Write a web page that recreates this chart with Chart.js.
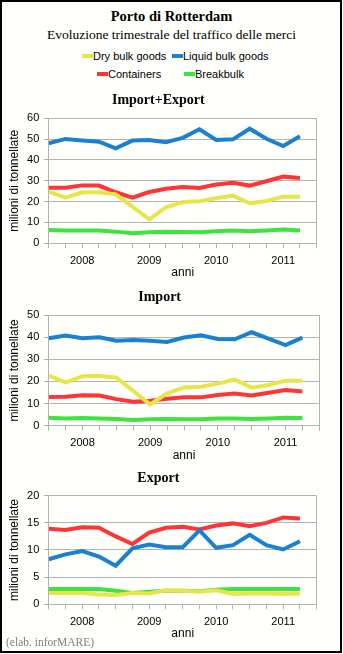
<!DOCTYPE html>
<html>
<head>
<meta charset="utf-8">
<script src="https://cdn.jsdelivr.net/npm/chart.js@4/dist/chart.umd.min.js"></script>
<style>
body { margin: 0; background: #fff; }
#frame { position: absolute; left: 0; top: 0; width: 342px; height: 653px; border: 2px solid #000; box-sizing: border-box; background: #fffffc; }
.hd { position: absolute; left: 0; width: 343px; text-align: center; white-space: nowrap; color: #000; font-family: 'Liberation Serif', 'Times New Roman', serif; }
#t1 { top: 7px; line-height: 18px; font-size: 14.5px; font-weight: bold; }
#t2 { top: 26px; line-height: 18px; font-size: 13.5px; }
.lg { position: absolute; line-height: 14px; font: 11px 'Liberation Sans', Arial, sans-serif; white-space: nowrap; color: #000; }
.lg i { display: inline-block; width: 11px; height: 4px; vertical-align: middle; margin-top: -2px; }
canvas { position: absolute; left: 0; }
#src { position: absolute; left: 6px; top: 636px; line-height: 14px; font: 11.5px 'Liberation Serif', 'Times New Roman', serif; color: #808080; }
</style>
</head>
<body>
<div id="frame"></div>
<div class="hd" id="t1">Porto di Rotterdam</div>
<div class="hd" id="t2">Evoluzione trimestrale del traffico delle merci</div>
<div id="legend"></div>
<canvas id="c1" width="343" height="195" style="top:88px"></canvas>
<canvas id="c2" width="343" height="184" style="top:283px"></canvas>
<canvas id="c3" width="343" height="186" style="top:467px"></canvas>
<div id="src">(elab. inforMARE)</div>
<script>
// anni sull'asse x, un punto per trimestre (2008 - 2011)
var yearLabels = ['2008', '2009', '2010', '2011'];
var seriesNames = ['Dry bulk goods', 'Liquid bulk goods', 'Containers', 'Breakbulk'];

// Import+Export, milioni di tonnellate
var totDry    = [24.8, 21.9, 24.5, 24.5, 23.5, 17.6, 11.5, 17.3, 19.8, 20.2, 21.6, 22.9, 19.2, 20.3, 22.4, 22.4];
var totLiquid = [48.0, 50.1, 49.4, 48.8, 45.6, 49.3, 49.6, 48.5, 50.6, 54.7, 49.6, 49.9, 55.0, 50.2, 46.7, 51.4];
var totCont   = [26.7, 26.7, 27.8, 27.7, 24.5, 21.9, 24.6, 26.2, 27.0, 26.6, 28.2, 29.1, 27.7, 29.8, 32.0, 31.4];
var totBreak  = [6.4, 6.2, 6.2, 6.2, 5.6, 4.8, 5.3, 5.6, 5.4, 5.3, 5.8, 6.1, 5.8, 6.2, 6.6, 6.2];

// Import
var impDry    = [22.6, 19.6, 22.3, 22.6, 21.7, 15.7, 9.6, 14.6, 17.3, 17.6, 19.0, 20.8, 17.2, 18.4, 20.3, 20.3];
var impLiquid = [39.5, 40.7, 39.5, 39.9, 38.4, 38.7, 38.4, 37.8, 39.8, 40.8, 39.2, 39.0, 42.2, 39.3, 36.4, 39.8];
var impCont   = [13.0, 13.1, 13.7, 13.6, 12.0, 10.8, 11.3, 12.2, 12.8, 12.8, 13.9, 14.5, 13.6, 14.9, 16.1, 15.5];
var impBreak  = [3.6, 3.3, 3.5, 3.3, 3.0, 2.6, 2.9, 3.0, 2.9, 2.9, 3.2, 3.3, 3.0, 3.3, 3.6, 3.5];

// Export
var expDry    = [2.1, 2.1, 2.1, 1.8, 1.7, 2.1, 2.0, 2.6, 2.5, 2.3, 2.6, 1.9, 2.0, 2.0, 1.9, 2.0];
var expLiquid = [8.3, 9.2, 9.8, 8.8, 7.1, 10.3, 11.0, 10.5, 10.5, 13.6, 10.4, 10.9, 12.8, 10.9, 10.1, 11.6];
var expCont   = [13.9, 13.7, 14.2, 14.1, 12.5, 11.1, 13.2, 14.1, 14.3, 13.8, 14.5, 14.9, 14.4, 15.0, 16.0, 15.8];
var expBreak  = [2.8, 2.8, 2.8, 2.8, 2.5, 2.1, 2.3, 2.5, 2.5, 2.4, 2.7, 2.8, 2.8, 2.8, 2.8, 2.8];

var colors = ['#e6e64a', '#1a80d0', '#ff3535', '#3ce43c'];
var gridGrey = '#b3b3b3';
var sansFont = "'Liberation Sans', Arial, sans-serif";
var serifFont = "'Liberation Serif', 'Times New Roman', serif";

// legenda comune in testa
var legendPos = [[82, 50], [172, 50], [97, 68], [184, 68]];
var legend = document.getElementById('legend');
seriesNames.forEach(function (name, i) {
	var d = document.createElement('div');
	d.className = 'lg';
	d.style.left = legendPos[i][0] + 'px';
	d.style.top = legendPos[i][1] + 'px';
	d.innerHTML = '<i style="background:' + colors[i] + '"></i>' + name;
	legend.appendChild(d);
});

function toPoints(values) {
	return values.map(function (v, i) { return { x: i, y: v }; });
}

function makeChart(id, title, values, yMax, yStep, pad, titleGap) {
	var ctx = document.getElementById(id).getContext('2d');
	var quarters = values[0].length;
	return new Chart(ctx, {
		type: 'line',
		data: {
			datasets: values.map(function (v, i) {
				return {
					label: seriesNames[i],
					data: toPoints(v),
					borderColor: colors[i],
					backgroundColor: colors[i],
					borderWidth: 4,
					pointRadius: 0,
					tension: 0,
					fill: false
				};
			})
		},
		options: {
			responsive: false,
			animation: false,
			layout: { padding: pad },
			plugins: {
				legend: { display: false },
				tooltip: { enabled: false },
				title: {
					display: true,
					text: title,
					color: '#000',
					font: { family: serifFont, size: 14, weight: 'bold' },
					padding: { top: 0, bottom: titleGap }
				}
			},
			scales: {
				x: {
					type: 'linear',
					min: 0,
					max: quarters,
					afterFit: function (scale) { scale.height = 38; },
					ticks: {
						stepSize: 1,
						autoSkip: false,
						maxRotation: 0,
						padding: 6,
						color: '#000',
						font: { family: sansFont, size: 11 },
						callback: function (v) {
							return (v % 4 === 2) ? yearLabels[(v - 2) / 4] : '';
						}
					},
					grid: {
						drawOnChartArea: true,
						tickLength: 5,
						tickColor: gridGrey,
						color: function (c) {
							return (c.tick && c.tick.value === quarters) ? gridGrey : 'rgba(0,0,0,0)';
						}
					},
					border: { color: gridGrey },
					title: {
						display: true,
						text: 'anni',
						color: '#000',
						font: { family: sansFont, size: 12 },
						padding: { top: 0, bottom: 1.3 }
					}
				},
				y: {
					min: 0,
					max: yMax,
					afterFit: function (scale) { scale.width = 48.7; },
					ticks: {
						stepSize: yStep,
						padding: 4.4,
						color: '#000',
						font: { family: sansFont, size: 11 }
					},
					grid: { color: gridGrey, tickLength: 5 },
					border: { color: gridGrey },
					title: {
						display: true,
						text: 'milioni di tonnellate',
						color: '#000',
						font: { family: sansFont, size: 12 },
						padding: { top: 7.8, bottom: 0 }
					}
				}
			}
		}
	});
}

makeChart('c1', 'Import+Export', [totDry, totLiquid, totCont, totBreak], 60, 10,
	{ top: 4.3, bottom: 1.7, left: 0, right: 26.3 }, 9.2);
makeChart('c2', 'Import', [impDry, impLiquid, impCont, impBreak], 50, 10,
	{ top: 6.3, bottom: 3.3, left: 0, right: 23.7 }, 8.9);
makeChart('c3', 'Export', [expDry, expLiquid, expCont, expBreak], 20, 5,
	{ top: 2.9, bottom: 10.7, left: 0, right: 26.3 }, 9.0);
</script>
</body>
</html>
